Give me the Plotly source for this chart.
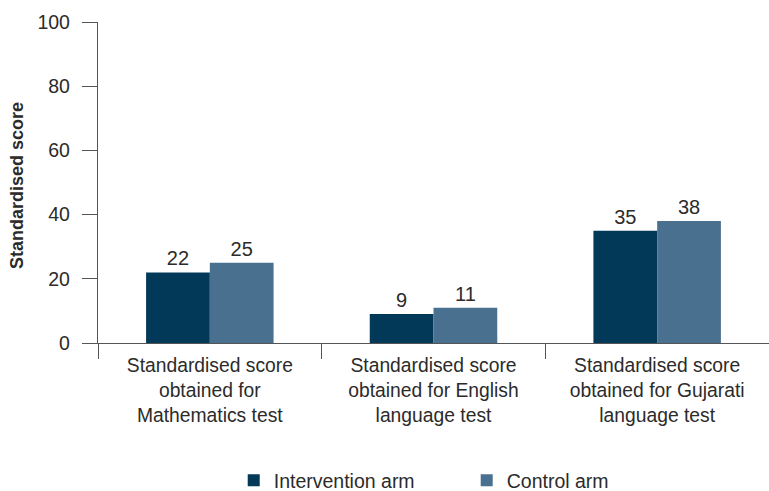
import plotly.graph_objects as go

categories = [
    "Standardised score<br>obtained for<br>Mathematics test",
    "Standardised score<br>obtained for English<br>language test",
    "Standardised score<br>obtained for Gujarati<br>language test",
]
intervention = [22, 9, 35]
control = [25, 11, 38]
series_names = ["Intervention arm", "Control arm"]
colors = ["#023858", "#4a7090"]
y_title = "Standardised score"

FONT = "Liberation Sans, Arial, sans-serif"
TXT = "#2b2b2b"

fig = go.Figure()
for name, vals, col in zip(series_names, [intervention, control], colors):
    fig.add_trace(go.Bar(
        x=categories, y=vals, name=name, marker=dict(color=col, line=dict(width=0)),
        text=[str(v) for v in vals], textposition="outside",
        textfont=dict(size=20, color=TXT, family=FONT), cliponaxis=False,
    ))

fig.add_annotation(
    text="<b>" + y_title + "</b>", xref="paper", yref="paper",
    x=(17 - 98) / 671, y=0.489, xanchor="center", yanchor="middle",
    textangle=-90, showarrow=False, font=dict(size=18, color=TXT, family=FONT),
)

fig.update_layout(
    width=769, height=491,
    margin=dict(l=98, r=0, t=22, b=148),
    plot_bgcolor="white", paper_bgcolor="white",
    barmode="group", bargap=0.43, bargroupgap=0,
    font=dict(family=FONT, color=TXT, size=18),
    showlegend=True,
    legend=dict(orientation="h", x=0.5495, xanchor="center",
                yref="container", y=1 - 480.5 / 491, yanchor="middle",
                font=dict(size=19.5, color=TXT, family=FONT), itemwidth=30,
                traceorder="normal", entrywidth=188, entrywidthmode="pixels"),
    xaxis=dict(
        automargin=False,
        showline=True, linecolor="#555555", linewidth=1.3,
        ticks="outside", tickson="boundaries", ticklen=15, tickcolor="#555555", tickwidth=1.3,
        tickfont=dict(size=19.3, color=TXT, family=FONT), ticklabelstandoff=5,
        showgrid=False, zeroline=False,
    ),
    yaxis=dict(
        automargin=False,
        range=[0, 100], tickvals=[0, 20, 40, 60, 80, 100],
        showline=True, linecolor="#555555", linewidth=1.3,
        ticks="outside", ticklen=15, tickcolor="#555555", tickwidth=1.3,
        tickfont=dict(size=19.5, color=TXT, family=FONT), ticklabelstandoff=8,
        showgrid=False, zeroline=False,
    ),
)

fig.write_html("out.html", post_script="document.body.style.margin='0';",
               config={"displayModeBar": False})
